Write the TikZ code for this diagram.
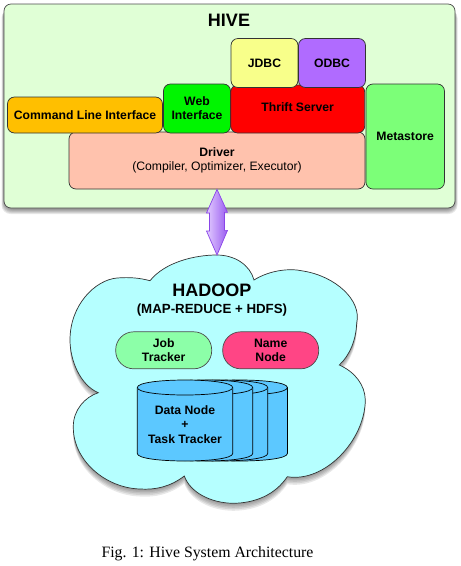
\documentclass[tikz,border=0pt]{standalone}
\usepackage{fontspec}
\setmainfont{Liberation Sans}
\newfontfamily\capfont{Liberation Serif}
\definecolor{cylblue}{HTML}{5CC8FF}
\definecolor{arrowline}{HTML}{8A45E8}
\definecolor{arrowlight}{HTML}{E2CCFF}
\definecolor{arrowdark}{HTML}{9A5CF0}
\definecolor{hivegreen}{HTML}{E0FFD6}
\definecolor{driverpink}{HTML}{FFC2AD}
\definecolor{cliorange}{HTML}{FFBF00}
\definecolor{webgreen}{HTML}{00F500}
\definecolor{jdbcyellow}{HTML}{F8FF8A}
\definecolor{odbcpurple}{HTML}{B06BFF}
\definecolor{metagreen}{HTML}{7CFF78}
\definecolor{cloudblue}{HTML}{B5FFFF}
\definecolor{jobgreen}{HTML}{8CFFA8}
\definecolor{namepink}{HTML}{FF4585}
\def\cloudpath{(150,280.7) .. controls (165,262) and (195,255) .. (216.7,255)
	.. controls (235,255) and (250,265) .. (254,280)
	.. controls (270,270) and (290,268) .. (303,271)
	.. controls (335,276) and (362,300) .. (356.7,323)
	.. controls (356,340) and (350,355) .. (339.3,365)
	.. controls (355,372) and (365,385) .. (365.3,400)
	.. controls (365,440) and (325,483) .. (287.3,476.7)
	.. controls (275,495) and (255,503) .. (233.3,503.3)
	.. controls (210,503) and (190,492) .. (184.3,476)
	.. controls (170,487) and (155,490) .. (140,489)
	.. controls (105,488) and (73,460) .. (73.3,427)
	.. controls (73,410) and (85,397) .. (98.3,392.7)
	.. controls (80,385) and (70,360) .. (70,340)
	.. controls (70,305) and (95,280) .. (117,278)
	.. controls (130,277) and (140,278) .. (150,280.7) -- cycle}
\tikzset{
	boldtext/.style={inner sep=0pt,align=center,font=\fontsize{12.2}{14}\selectfont\bfseries},
	blockbox/.style={boldtext,draw=black!80,line width=.7pt,rounded corners=7pt},
	pillbox/.style={boldtext,draw=black!70,line width=.7pt,rounded corners=18pt,
		minimum width=96,minimum height=37},
	dbcyl/.style={draw=black,line width=.7pt,fill=cylblue},
	titletext/.style={inner sep=0pt,font=\fontsize{18}{20}\selectfont\bfseries},
	dblarrow/.style={draw=arrowline,line width=.7pt,left color=arrowlight,right color=arrowdark},
}
\begin{document}
\begin{tikzpicture}[x=1pt,y=-1pt]
	\useasboundingbox (0,0) rectangle (461,566);
	% soft shadows
	\foreach \o in {0,1,...,5} {
		\fill[black,opacity=.09,rounded corners=9pt] (4-\o*.5,8+\o*.2) rectangle (455+\o*.5,209+\o);
		\fill[black,opacity=.09,yshift=-1.5*\o pt] \cloudpath;
	}
	% hive
	\node[blockbox,fill=hivegreen,minimum width=451,minimum height=204,draw=black!70] (hive) at (229.5,106) {};
	\node[titletext] (hivetitle) at (229,20) {HIVE};
	\node[blockbox,fill=driverpink,minimum width=296,minimum height=57,font=\fontsize{12.2}{14}\selectfont] (driver) at (217,160.5)
		{\textbf{Driver}\\(Compiler, Optimizer, Executor)};
	\node[blockbox,fill=cliorange,minimum width=155,minimum height=36] (cli) at (85,115) {Command Line Interface};
	\node[blockbox,fill=webgreen,minimum width=67,minimum height=49] (web) at (197,108.5) {Web\\Interface};
	\node[blockbox,fill=red,minimum width=134,minimum height=48] (thrift) at (297.7,109) {};
	\node[boldtext] (thrifttext) at (297.7,107.5) {Thrift Server};
	\node[blockbox,fill=jdbcyellow,minimum width=67,minimum height=49] (jdbc) at (264.5,63) {JDBC};
	\node[blockbox,fill=odbcpurple,minimum width=67,minimum height=49] (odbc) at (332,63) {ODBC};
	\node[blockbox,fill=metagreen,minimum width=78.5,minimum height=105] (meta) at (405.2,136.5) {Metastore};
	% hadoop
	\fill[cloudblue] \cloudpath;
	\draw[black!80,line width=.7pt] \cloudpath;
	\coordinate (cloudtop) at (217,255);
	\node[titletext] (hadoop) at (212,290) {HADOOP};
	\node[boldtext,font=\fontsize{13.3}{14}\selectfont\bfseries] (mapred) at (212,310.5) {(MAP-REDUCE + HDFS)};
	\node[pillbox,fill=jobgreen] (job) at (163.7,350.3) {Job\\Tracker};
	\node[pillbox,fill=namepink] (name) at (270.7,350.3) {Name\\Node};
	\foreach \x in {239.7,220,205,185} {
		\filldraw[dbcyl] (\x-47.7,387.5) .. controls (\x-47.7,377.5) and (\x+47.7,377.5) .. (\x+47.7,387.5)
			-- (\x+47.7,453.5) .. controls (\x+47.7,463.5) and (\x-47.7,463.5) .. (\x-47.7,453.5) -- cycle;
		\draw[dbcyl] (\x-47.7,387.5) .. controls (\x-47.7,397.5) and (\x+47.7,397.5) .. (\x+47.7,387.5);
	}
	\node[boldtext,font=\fontsize{12.2}{14.5}\selectfont\bfseries] (data) at (185,424.5) {Data Node\\+\\Task Tracker};
	% arrow
	\draw[dblarrow] (driver.south) -- ++(10.5,23) -- ++(-3,0) -- ++(0,18) -- ++(3,0) -- (cloudtop)
		-- ++(-10.5,-24) -- ++(3,0) -- ++(0,-18) -- ++(-3,0) -- cycle;
	\node[inner sep=0pt,font=\capfont\fontsize{15.8}{18}\selectfont] (caption) at (207.5,553.5) {Fig. 1: Hive System Architecture};
\end{tikzpicture}
\end{document}
